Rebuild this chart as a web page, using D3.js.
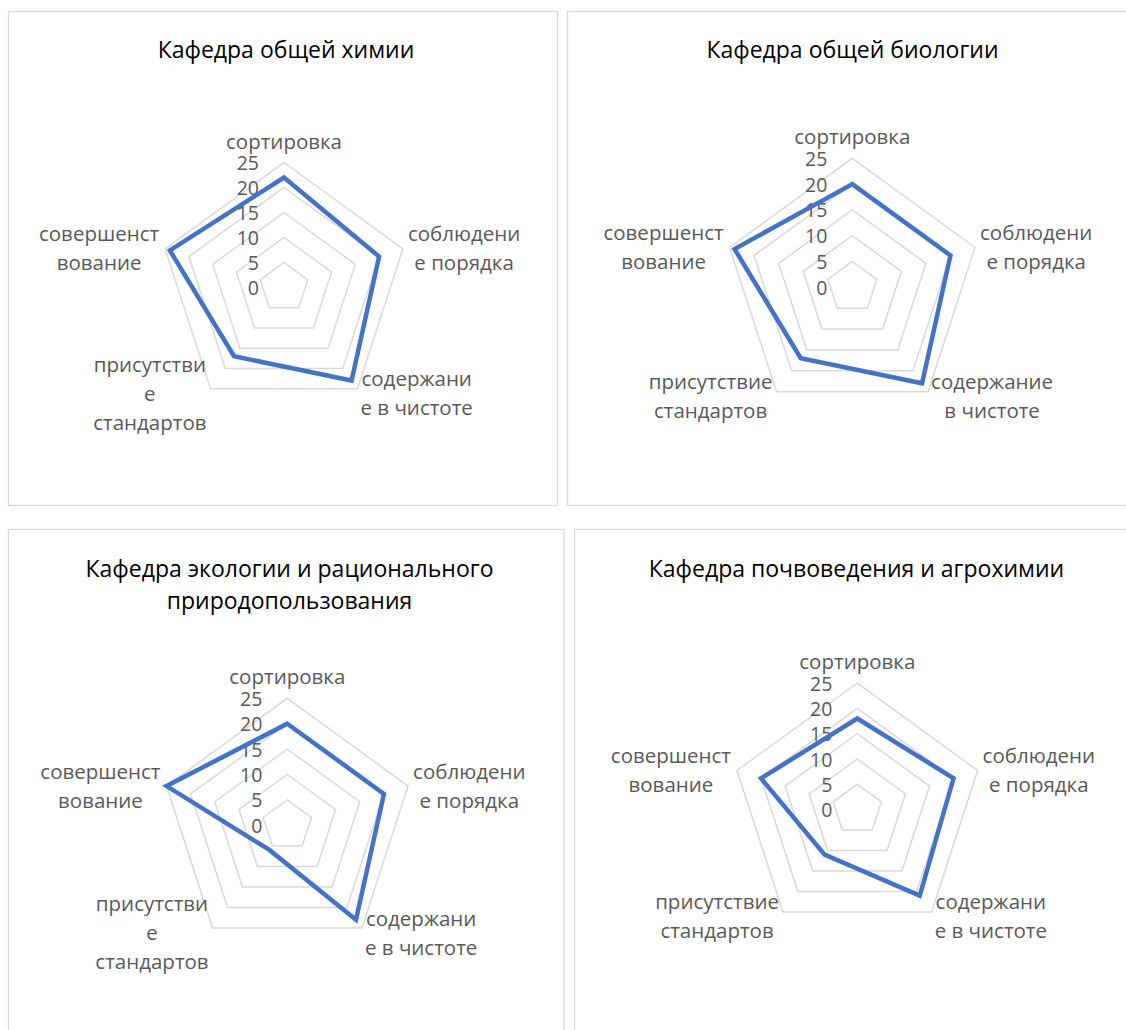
<!DOCTYPE html>
<html>
<head>
<meta charset="utf-8">
<script src="https://cdn.jsdelivr.net/npm/d3@7"></script>
<style>
  body { margin: 0; background: #fff; }
  text { font-family: "Open Sans", "Noto Sans", sans-serif; }
</style>
</head>
<body>
<div id="chart"></div>
<script>
// criteria (axes), clockwise from the top
const axes = ["сортировка", "соблюдение порядка", "содержание в чистоте", "присутствие стандартов", "совершенствование"];

// department titles (third one wraps in two lines)
const titleChem = ["Кафедра общей химии"];
const titleBio = ["Кафедра общей биологии"];
const titleEco = ["Кафедра экологии и рационального", "природопользования"];
const titleSoil = ["Кафедра почвоведения и агрохимии"];

// scores per criterion
const valuesChem = [22, 20, 23, 17, 24];
const valuesBio = [20, 20, 23, 17, 24];
const valuesEco = [20, 20, 23, 6, 25];
const valuesSoil = [18, 20, 21, 11, 20];

const ticks = [0, 5, 10, 15, 20, 25];

// axis labels as Excel wrapped them in each chart
const wrapNarrow = [["сортировка"], ["соблюдени", "е порядка"], ["содержани", "е в чистоте"], ["присутстви", "е", "стандартов"], ["совершенст", "вование"]];
const wrapBio = [["сортировка"], ["соблюдени", "е порядка"], ["содержание", "в чистоте"], ["присутствие", "стандартов"], ["совершенст", "вование"]];
const wrapSoil = [["сортировка"], ["соблюдени", "е порядка"], ["содержани", "е в чистоте"], ["присутствие", "стандартов"], ["совершенст", "вование"]];

const W = 1126, H = 1030;
const svg = d3.select("#chart").append("svg")
  .attr("width", W)
  .attr("height", H)
  .style("background", "#fff");

// chart frames and plot centres
const panels = [
  { title: titleChem, values: valuesChem, wrap: wrapNarrow, box: [8.5, 11.5, 549, 494], cx: 284, cy: 287.5, r: 125, titleX: 286, titleY: 49 },
  { title: titleBio, values: valuesBio, wrap: wrapBio, box: [567.5, 11.5, 600, 494], cx: 852.3, cy: 287.3, r: 129, titleX: 852.5, titleY: 49 },
  { title: titleEco, values: valuesEco, wrap: wrapNarrow, box: [8.5, 529.5, 555.5, 560], cx: 287.3, cy: 825.3, r: 127, titleX: 289.5, titleY: 567.5 },
  { title: titleSoil, values: valuesSoil, wrap: wrapSoil, box: [574.5, 529.5, 600, 560], cx: 857.3, cy: 809.6, r: 126.5, titleX: 856.5, titleY: 567.5 }
];

const angle = i => i * 2 * Math.PI / axes.length;
const lineH = 29;

panels.forEach(p => {
  const g = svg.append("g");

  g.append("rect")
    .attr("x", p.box[0]).attr("y", p.box[1])
    .attr("width", p.box[2]).attr("height", p.box[3])
    .attr("fill", "none")
    .attr("stroke", "#d9d9d9")
    .attr("stroke-width", 1.3);

  // title
  g.append("text")
    .attr("x", p.titleX)
    .attr("y", p.titleY)
    .attr("text-anchor", "middle")
    .attr("dominant-baseline", "central")
    .style("font-size", "23px")
    .style("fill", "#000")
    .selectAll("tspan")
    .data(p.title)
    .join("tspan")
    .attr("x", p.titleX)
    .attr("dy", (d, i) => i === 0 ? 0 : 32)
    .text(d => d);

  const rScale = d3.scaleLinear().domain([0, 25]).range([0, p.r]);
  const plot = g.append("g").attr("transform", `translate(${p.cx},${p.cy})`);

  const radial = d3.lineRadial()
    .angle((d, i) => angle(i))
    .radius(d => rScale(d))
    .curve(d3.curveLinearClosed);

  // grid pentagons
  plot.selectAll(".ring")
    .data(ticks.filter(t => t > 0))
    .join("path")
    .attr("class", "ring")
    .attr("d", t => radial(axes.map(() => t)))
    .attr("fill", "none")
    .attr("stroke", "#d9d9d9")
    .attr("stroke-width", 1.5);

  // value axis labels
  plot.selectAll(".tick")
    .data(ticks)
    .join("text")
    .attr("class", "tick")
    .attr("x", -25)
    .attr("y", t => -rScale(t))
    .attr("text-anchor", "end")
    .attr("dominant-baseline", "central")
    .style("font-size", "19.5px")
    .style("fill", "#595959")
    .text(t => t);

  // data polygon
  plot.append("path")
    .attr("d", radial(p.values))
    .attr("fill", "none")
    .attr("stroke", "#4472c4")
    .attr("stroke-width", 4.5)
    .attr("stroke-linejoin", "miter");

  // category labels
  p.wrap.forEach((lines, i) => {
    const a = angle(i);
    const vx = Math.sin(a) * rScale(25);
    const vy = -Math.cos(a) * rScale(25);
    const t = plot.append("text")
      .attr("text-anchor", "middle")
      .style("font-size", "20.5px")
      .style("fill", "#595959");
    lines.forEach((ln, k) => {
      t.append("tspan").attr("x", 0).attr("y", k * lineH).text(ln);
    });
    const bw = d3.max(t.selectAll("tspan").nodes(), n => n.getComputedTextLength());
    const blockH = (lines.length - 1) * lineH;
    let bx, by;
    if (i === 0) { bx = 0; by = vy - 22; }
    else if (i === 1) { bx = vx + 5 + bw / 2; by = vy - 1; }
    else if (i === 2) { bx = vx + 3 + bw / 2; by = vy + 4; }
    else if (i === 3) { bx = vx - 4 - bw / 2; by = vy + 4; }
    else { bx = vx - 6 - bw / 2; by = vy - 1; }
    t.attr("dominant-baseline", "central")
      .attr("transform", `translate(${bx},${by - blockH / 2})`);
  });
});
</script>
</body>
</html>
